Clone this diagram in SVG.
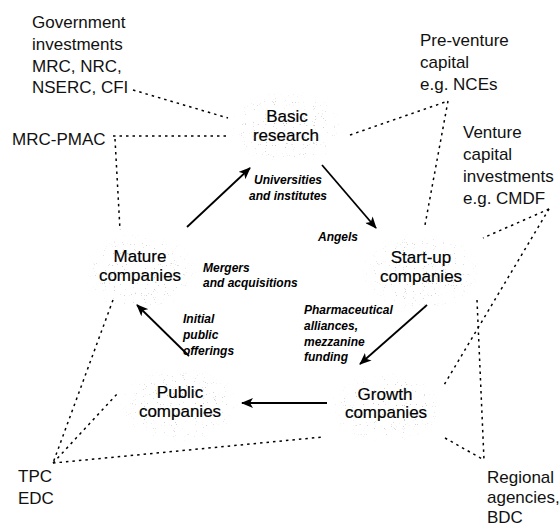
<svg xmlns="http://www.w3.org/2000/svg" width="559" height="527" viewBox="0 0 559 527">
  <defs>
    <style>
      .src { font-family: "Liberation Sans", Arial, sans-serif; font-size: 17px; fill: #111; }
      .stage { font-family: "Liberation Sans", Arial, sans-serif; font-size: 17px; fill: #000; stroke: #000; stroke-width: 0.2; text-anchor: middle; }
      .flow { font-family: "Liberation Sans", Arial, sans-serif; font-size: 12px; font-style: italic; font-weight: bold; fill: #000; }
      .link { fill: none; stroke: #000; stroke-width: 1.5; stroke-dasharray: 2.5 4; }
      .arrow { fill: none; stroke: #000; stroke-width: 1.8; marker-end: url(#head); }
      .halo { fill: url(#haloFade); filter: url(#speckle); }
    </style>
    <marker id="head" viewBox="0 0 12 10" refX="11" refY="5" markerWidth="12" markerHeight="10" markerUnits="userSpaceOnUse" orient="auto">
      <path d="M0,0 L12,5 L0,10 L3,5 Z" fill="#000"/>
    </marker>
    <radialGradient id="haloFade">
      <stop offset="0" stop-color="#000" stop-opacity="0.8"/>
      <stop offset="0.7" stop-color="#000" stop-opacity="0.6"/>
      <stop offset="1" stop-color="#000" stop-opacity="0"/>
    </radialGradient>
    <!-- sparse grey grain clipped to the halo shape -->
    <filter id="speckle" x="-10%" y="-10%" width="120%" height="120%">
      <feTurbulence type="fractalNoise" baseFrequency="0.9" numOctaves="1" seed="7" result="noise"/>
      <feColorMatrix in="noise" type="matrix" values="0 0 0 0 0.5  0 0 0 0 0.5  0 0 0 0 0.5  18 0 0 0 -12.1" result="grain"/>
      <feComposite in="grain" in2="SourceGraphic" operator="in"/>
    </filter>
  </defs>

  <rect width="559" height="527" fill="#fff"/>

  <!-- dotted funding links -->
  <g id="connectors">
    <line class="link" x1="133" y1="90" x2="228" y2="118"/>
    <line class="link" x1="113" y1="136" x2="229" y2="136"/>
    <line class="link" x1="115" y1="139" x2="120" y2="230"/>
    <line class="link" x1="350" y1="135" x2="448" y2="101"/>
    <line class="link" x1="448" y1="101" x2="425" y2="225"/>
    <line class="link" x1="549" y1="209" x2="483" y2="238"/>
    <line class="link" x1="549" y1="209" x2="444" y2="385"/>
    <line class="link" x1="477" y1="300" x2="484" y2="460"/>
    <line class="link" x1="445" y1="438" x2="484" y2="460"/>
    <line class="link" x1="113" y1="300" x2="53" y2="463"/>
    <line class="link" x1="53" y1="463" x2="118" y2="393"/>
    <line class="link" x1="53" y1="463" x2="323" y2="437"/>

    <!-- life-cycle arrows -->
    <line class="arrow" x1="187" y1="227" x2="250" y2="168"/>
    <line class="arrow" x1="322" y1="165" x2="376" y2="228"/>
    <line class="arrow" x1="427" y1="305" x2="360" y2="364"/>
    <line class="arrow" x1="327" y1="403" x2="242" y2="403"/>
    <line class="arrow" x1="189" y1="356" x2="137" y2="305"/>
  </g>

  <!-- stages -->
  <g id="basic-research">
    <ellipse class="halo" cx="287" cy="128" rx="58" ry="38"/>
    <text class="stage" x="287" y="122">Basic</text>
    <text class="stage" x="286" y="141">research</text>
  </g>
  <g id="start-up">
    <ellipse class="halo" cx="421" cy="272" rx="60" ry="40"/>
    <text class="stage" x="421" y="263">Start-up</text>
    <text class="stage" x="421" y="282">companies</text>
  </g>
  <g id="growth">
    <ellipse class="halo" cx="386" cy="408" rx="58" ry="36"/>
    <text class="stage" x="385" y="400">Growth</text>
    <text class="stage" x="386" y="418">companies</text>
  </g>
  <g id="public">
    <ellipse class="halo" cx="180" cy="405" rx="62" ry="38"/>
    <text class="stage" x="180" y="398">Public</text>
    <text class="stage" x="180" y="417">companies</text>
  </g>
  <g id="mature">
    <ellipse class="halo" cx="140" cy="272" rx="58" ry="40"/>
    <text class="stage" x="140" y="262">Mature</text>
    <text class="stage" x="140" y="281">companies</text>
  </g>

  <!-- transition labels -->
  <g id="flow-labels">
    <text class="flow" x="288" y="184" text-anchor="middle">Universities</text>
    <text class="flow" x="288" y="200" text-anchor="middle">and institutes</text>
    <text class="flow" x="318" y="241">Angels</text>
    <text class="flow" x="203" y="272">Mergers</text>
    <text class="flow" x="203" y="287">and acquisitions</text>
    <text class="flow" x="183" y="323">Initial</text>
    <text class="flow" x="183" y="339">public</text>
    <text class="flow" x="183" y="355">offerings</text>
    <text class="flow" x="304" y="314">Pharmaceutical</text>
    <text class="flow" x="304" y="330">alliances,</text>
    <text class="flow" x="304" y="346">mezzanine</text>
    <text class="flow" x="304" y="361">funding</text>
  </g>

  <!-- funding sources -->
  <g id="government">
    <text class="src" x="32" y="28">Government</text>
    <text class="src" x="32" y="50">investments</text>
    <text class="src" x="32" y="72">MRC, NRC,</text>
    <text class="src" x="32" y="93">NSERC, CFI</text>
  </g>
  <g id="mrc-pmac">
    <text class="src" x="12" y="145">MRC-PMAC</text>
  </g>
  <g id="pre-venture">
    <text class="src" x="420" y="46">Pre-venture</text>
    <text class="src" x="420" y="68">capital</text>
    <text class="src" x="420" y="90">e.g. NCEs</text>
  </g>
  <g id="venture">
    <text class="src" x="463" y="138">Venture</text>
    <text class="src" x="463" y="160">capital</text>
    <text class="src" x="463" y="182">investments</text>
    <text class="src" x="463" y="204">e.g. CMDF</text>
  </g>
  <g id="regional">
    <text class="src" x="487" y="483" font-size="16.5">Regional</text>
    <text class="src" x="487" y="503" font-size="16.5">agencies,</text>
    <text class="src" x="487" y="523" font-size="16.5">BDC</text>
  </g>
  <g id="tpc-edc">
    <text class="src" x="18" y="482">TPC</text>
    <text class="src" x="18" y="504">EDC</text>
  </g>
</svg>
